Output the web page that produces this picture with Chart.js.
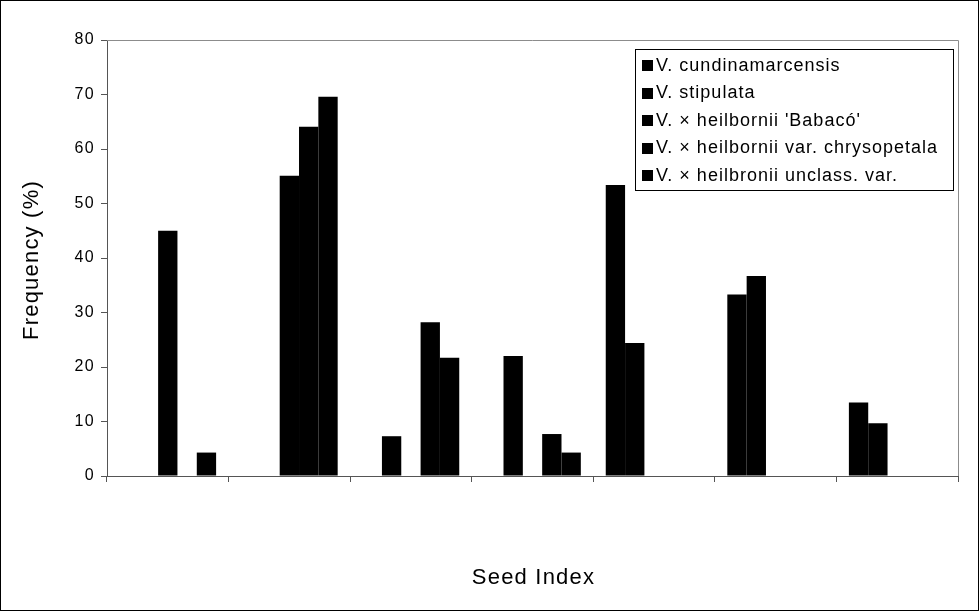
<!DOCTYPE html>
<html>
<head>
<meta charset="utf-8">
<script src="https://cdn.jsdelivr.net/npm/chart.js@4/dist/chart.umd.min.js"></script>
<style>
  html, body { margin: 0; padding: 0; background: #fff; }
</style>
</head>
<body>
<canvas id="graficoSementes" width="979" height="611"></canvas>
<script>
// Classes do índice de sementes (rótulos não visíveis no original)
const classes = ["1", "2", "3", "4", "5", "6", "7"];

// Frequência (%) por espécie
const cundinamarcensis = [0, 0, 0, 0, 53.4, 33.3, 13.5];
const stipulata = [0, 0, 7.3, 22.0, 24.4, 36.7, 9.7];
const babaco = [45.0, 55.1, 0, 0, 0, 0, 0];
const chrysopetala = [0, 64.1, 28.2, 7.7, 0, 0, 0];
const unclassVar = [4.3, 69.6, 21.7, 4.3, 0, 0, 0];

const nomes = [
  "V. cundinamarcensis",
  "V. stipulata",
  "V. × heilbornii 'Babacó'",
  "V. × heilbornii var. chrysopetala",
  "V. × heilbronii unclass. var."
];
const series = [cundinamarcensis, stipulata, babaco, chrysopetala, unclassVar];

const tituloX = "Seed Index";
const tituloY = "Frequency (%)";

const FONTE = "'Liberation Sans', Arial, sans-serif";

// moldura da área do gráfico, títulos, legenda em caixa e borda externa
const molduraPlugin = {
  id: "moldura",
  beforeDraw(chart) {
    chart.ctx.letterSpacing = "1.3px";
  },
  beforeDatasetsDraw(chart) {
    const { ctx, chartArea: a } = chart;
    ctx.save();
    ctx.strokeStyle = "#8c8c8c";
    ctx.lineWidth = 1;
    ctx.beginPath();
    ctx.moveTo(a.left, Math.round(a.top) + 0.5);
    ctx.lineTo(Math.round(a.right) + 0.5, Math.round(a.top) + 0.5);
    ctx.lineTo(Math.round(a.right) + 0.5, a.bottom);
    ctx.stroke();
    ctx.restore();
  },
  afterDraw(chart) {
    const { ctx, chartArea: a } = chart;
    ctx.save();
    // títulos dos eixos
    ctx.fillStyle = "#000";
    ctx.font = "22px " + FONTE;
    ctx.letterSpacing = "1.2px";
    ctx.textAlign = "center";
    ctx.textBaseline = "middle";
    ctx.fillText(tituloX, (a.left + a.right) / 2 + 1, 578);
    ctx.save();
    ctx.translate(32, (a.top + a.bottom) / 2 + 2);
    ctx.rotate(-Math.PI / 2);
    ctx.fillText(tituloY, 0, 0);
    ctx.restore();

    // legenda
    const x0 = Math.round(a.right) - 323;
    const y0 = Math.round(a.top) + 9;
    const w = 318, h = 141;
    ctx.fillStyle = "#fff";
    ctx.fillRect(x0, y0, w, h);
    ctx.strokeStyle = "#000";
    ctx.lineWidth = 1;
    ctx.strokeRect(x0 + 0.5, y0 + 0.5, w, h);
    ctx.font = "18px " + FONTE;
    ctx.letterSpacing = "1px";
    ctx.textAlign = "left";
    chart.data.datasets.forEach((ds, i) => {
      const yc = y0 + 16 + i * 27.5;
      ctx.fillStyle = ds.backgroundColor;
      ctx.fillRect(x0 + 7, Math.round(yc - 5), 11, 11);
      ctx.fillStyle = "#000";
      ctx.fillText(ds.label, x0 + 21, yc + 1);
    });
    // borda externa
    ctx.strokeStyle = "#000";
    ctx.strokeRect(0.5, 0.5, chart.width - 1, chart.height - 1);
    ctx.restore();
  }
};

const ctx = document.getElementById("graficoSementes").getContext("2d");
new Chart(ctx, {
  type: "bar",
  data: {
    labels: classes,
    datasets: series.map((valores, i) => ({
      label: nomes[i],
      data: valores,
      backgroundColor: "#000000",
      borderWidth: 0,
      categoryPercentage: 0.795,
      barPercentage: 1.0
    }))
  },
  options: {
    responsive: false,
    animation: false,
    layout: { padding: { left: 0, top: 40, right: 21, bottom: 0 } },
    plugins: {
      legend: { display: false },
      tooltip: { enabled: false }
    },
    scales: {
      x: {
        grid: { drawOnChartArea: false, drawTicks: true, tickLength: 6, color: "#555" },
        border: { color: "#555", width: 1 },
        ticks: { display: false },
        afterFit(scale) { scale.height = 135; }
      },
      y: {
        min: 0,
        max: 80,
        grid: { drawOnChartArea: false, drawTicks: true, tickLength: 6, color: "#555" },
        border: { color: "#555", width: 1 },
        ticks: {
          stepSize: 10,
          color: "#000",
          padding: 6,
          font: { family: FONTE, size: 16 }
        },
        afterFit(scale) { scale.width = 107; }
      }
    }
  },
  plugins: [molduraPlugin]
});
</script>
</body>
</html>
